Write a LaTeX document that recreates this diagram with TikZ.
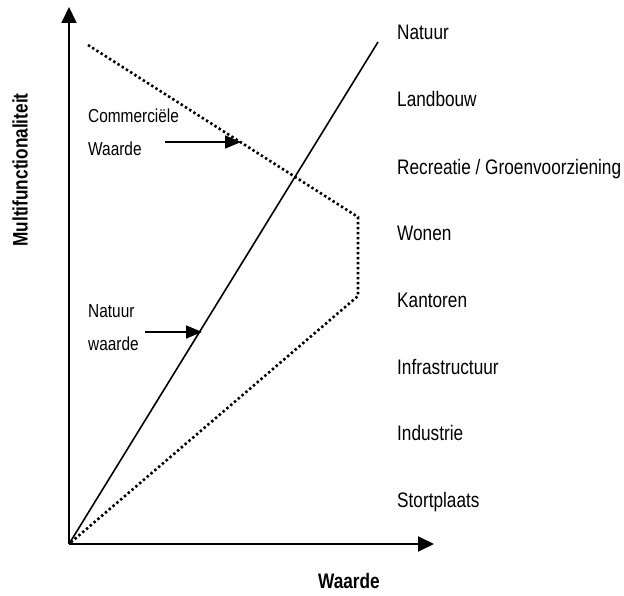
\documentclass[tikz,border=0pt]{standalone}
\usepackage{fontspec}
\setmainfont[FakeStretch=0.82]{Liberation Sans}
\usetikzlibrary{arrows.meta}

\begin{document}
\begin{tikzpicture}[
  x=1pt,
  y=-1pt,
  font=\fontsize{21}{24}\selectfont,
  >={Triangle[length=16pt,width=15pt]},
  axis/.style={->, line width=2pt},
  pointer/.style={->, line width=1.6pt, >={Triangle[length=16pt,width=13pt]}},
  lbl/.style={anchor=base west, inner sep=0pt},
  note/.style={anchor=base west, inner sep=0pt, font=\fontsize{18.8}{22}\selectfont},
  trend/.style={line width=1.6pt},
  dots/.style={line width=2.6pt, dash pattern=on 2.4pt off 2.6pt}
]
  \useasboundingbox (0,0) rectangle (624,596);

  % axes
  \coordinate (o) at (69,544);
  \coordinate (ytop) at (69,7);
  \coordinate (xend) at (434,544);
  \draw[axis] (o) -- (ytop);
  \draw[axis] (o) -- (xend);
  \node[anchor=base, inner sep=0pt, font=\fontsize{21}{24}\selectfont\bfseries] (xlab) at (349,588) {Waarde};
  \node[font=\fontsize{21}{24}\selectfont\bfseries, rotate=90] (ylab) at (20,170) {Multifunctionaliteit};

  % lines
  \coordinate (ntop) at (378,42);
  \draw[trend] (o) -- (ntop);
  \coordinate (c1) at (88,45);
  \coordinate (c2) at (358,217);
  \coordinate (c3) at (358,296);
  \draw[dots] (c1) -- (c2) -- (c3) -- (o);

  % functies
  \node[lbl] (natuur) at (397,40) {Natuur};
  \node[lbl] (landbouw) at (397,107) {Landbouw};
  \node[lbl] (recreatie) at (397,175) {Recreatie / Groenvoorziening};
  \node[lbl] (wonen) at (397,241) {Wonen};
  \node[lbl] (kantoren) at (397,307) {Kantoren};
  \node[lbl] (infra) at (397,374) {Infrastructuur};
  \node[lbl] (industrie) at (397,440) {Industrie};
  \node[lbl] (stort) at (397,507) {Stortplaats};

  % aanwijzers
  \node[note] (comm) at (88,123) {Commerciële};
  \node[note] (commw) at (88,156) {Waarde};
  \coordinate (commtail) at (165,142);
  \coordinate (commtip) at (241,142);
  \draw[pointer] (commtail) -- (commtip);
  \node[note] (nat) at (88,317) {Natuur};
  \node[note] (natw) at (88,350) {waarde};
  \coordinate (nattail) at (145,332);
  \coordinate (nattip) at (202,332);
  \draw[pointer] (nattail) -- (nattip);
\end{tikzpicture}
\end{document}
